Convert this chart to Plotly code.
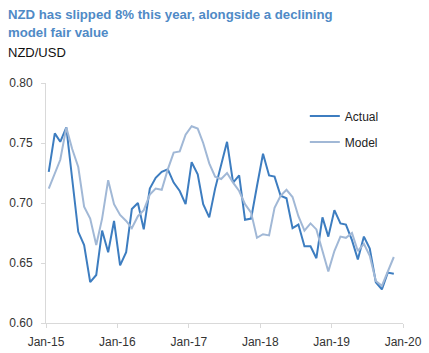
import plotly.graph_objects as go

# Monthly observations, Jan-2015 .. Nov-2019
start_year = 2015
n_months = 59
actual = [0.726, 0.758, 0.751, 0.763, 0.720, 0.676, 0.665, 0.634, 0.640, 0.677,
          0.659, 0.685, 0.648, 0.659, 0.695, 0.700, 0.678, 0.712, 0.721, 0.726,
          0.728, 0.717, 0.710, 0.699, 0.734, 0.724, 0.699, 0.688, 0.712, 0.731,
          0.751, 0.717, 0.723, 0.686, 0.687, 0.714, 0.741, 0.723, 0.722, 0.706,
          0.704, 0.679, 0.682, 0.664, 0.664, 0.654, 0.688, 0.672, 0.694, 0.683,
          0.682, 0.669, 0.653, 0.672, 0.662, 0.634, 0.628, 0.642, 0.641]
model = [0.712, 0.724, 0.736, 0.763, 0.745, 0.730, 0.697, 0.687, 0.665, 0.687,
         0.719, 0.699, 0.690, 0.685, 0.679, 0.689, 0.694, 0.707, 0.712, 0.711,
         0.728, 0.742, 0.743, 0.757, 0.764, 0.762, 0.750, 0.733, 0.722, 0.720,
         0.725, 0.717, 0.710, 0.699, 0.692, 0.671, 0.674, 0.673, 0.696, 0.706,
         0.711, 0.705, 0.689, 0.677, 0.683, 0.678, 0.659, 0.643, 0.660, 0.672,
         0.671, 0.675, 0.660, 0.666, 0.656, 0.635, 0.631, 0.643, 0.655]
dates = [f"{start_year + i // 12}-{i % 12 + 1:02d}-15" for i in range(n_months)]

tick_vals = ["2015-01-01", "2016-01-01", "2017-01-01", "2018-01-01", "2019-01-01", "2020-01-01"]
tick_text = ["Jan-15", "Jan-16", "Jan-17", "Jan-18", "Jan-19", "Jan-20"]
y_ticks = [0.60, 0.65, 0.70, 0.75, 0.80]

FONT = "Liberation Sans, Arial, sans-serif"
AXIS_COL = "#d9d9d9"

L, R, T, B = 46, 26, 83, 30
W, H = 429, 353
PW, PH = W - L - R, H - T - B


def px_x(x):
    return (x - L) / PW


def px_y(y):
    return (H - B - y) / PH


fig = go.Figure()
fig.add_trace(go.Scatter(x=dates, y=actual, mode="lines", name="Actual",
                         line=dict(color="#3d7dc0", width=2), legendgroup="a"))
fig.add_trace(go.Scatter(x=dates, y=model, mode="lines", name="Model",
                         line=dict(color="#a1b8d6", width=2), legendgroup="b"))

fig.update_layout(
    width=W, height=H,
    margin=dict(l=L, r=R, t=T, b=B, autoexpand=False),
    paper_bgcolor="white", plot_bgcolor="white",
    font=dict(family=FONT, size=12, color="#333333"),
    showlegend=True,
    legend=dict(x=0.725, y=0.923, xanchor="left", yanchor="top",
                bgcolor="rgba(0,0,0,0)", font=dict(size=12, color="#222222"),
                tracegroupgap=7, itemwidth=30),
    xaxis=dict(
        type="date", range=["2015-01-01", "2020-01-01"],
        tickvals=tick_vals, ticktext=tick_text,
        showgrid=False, zeroline=False, automargin=False,
        showline=True, linecolor=AXIS_COL, linewidth=1,
        ticks="outside", ticklen=4, tickcolor=AXIS_COL,
        tickfont=dict(size=12, color="#333333"),
        ticklabelstandoff=4,
    ),
    yaxis=dict(
        range=[0.60, 0.80], tickvals=y_ticks,
        tickformat=".2f",
        showgrid=False, zeroline=False, automargin=False,
        showline=True, linecolor=AXIS_COL, linewidth=1,
        ticks="outside", ticklen=4, tickcolor=AXIS_COL,
        tickfont=dict(size=12, color="#333333"),
        ticklabelstandoff=6,
    ),
    annotations=[
        dict(text="<b>NZD has slipped 8% this year, alongside a declining</b>",
             xref="paper", yref="paper", x=px_x(6), y=px_y(5),
             xanchor="left", yanchor="top", showarrow=False,
             font=dict(family=FONT, size=13.2, color="#4f8ac6")),
        dict(text="<b>model fair value</b>",
             xref="paper", yref="paper", x=px_x(6), y=px_y(23),
             xanchor="left", yanchor="top", showarrow=False,
             font=dict(family=FONT, size=13.2, color="#4f8ac6")),
        dict(text="NZD/USD", xref="paper", yref="paper",
             x=px_x(6), y=px_y(43), xanchor="left", yanchor="top",
             showarrow=False, font=dict(family=FONT, size=13, color="#111111")),
    ],
)

fig.write_html("out.html")
